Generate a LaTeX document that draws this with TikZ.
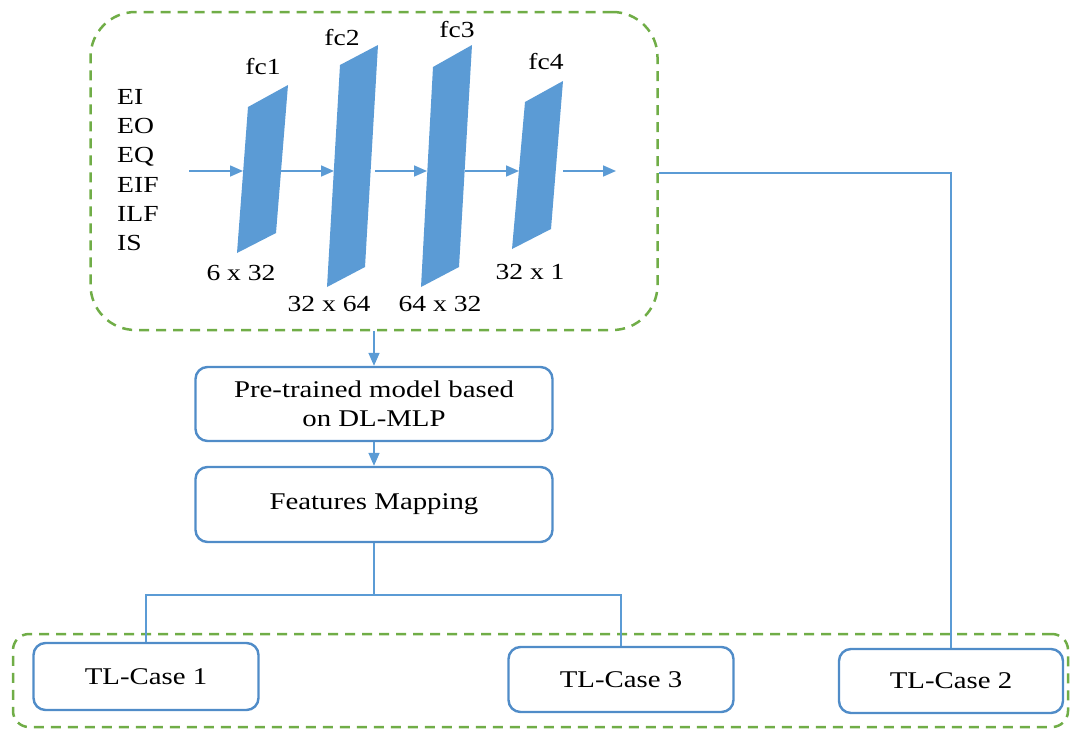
\documentclass[tikz,border=0pt]{standalone}
\usepackage{fontspec}
\setmainfont[FakeStretch=1.2]{Liberation Serif}
\usetikzlibrary{arrows.meta,positioning}
\definecolor{layerblue}{RGB}{91,155,213}
\definecolor{edgeblue}{RGB}{80,140,200}
\definecolor{framegreen}{RGB}{112,173,71}

\begin{document}
\begin{tikzpicture}[x=1pt, y=-1pt,
  frame/.style={rectangle, draw=framegreen, line width=2.5pt, dash pattern=on 10pt off 7pt},
  block/.style={rectangle, rounded corners=12pt, draw=edgeblue, line width=2.4pt, fill=white, text centered, font=\fontsize{24}{29}\selectfont},
  lbl/.style={font=\fontsize{23}{26}\selectfont, inner sep=0pt},
  link/.style={draw=layerblue, line width=1.6pt},
  flow/.style={link, -{Triangle[length=13pt, width=11pt]}}]
\useasboundingbox (0,0) rectangle (1075,731);

% Frames
\node (mlpframe) [frame, rounded corners=45pt, minimum width=567pt, minimum height=318pt] at (374,171) {};
\node (caseframe) [frame, rounded corners=16pt, minimum width=1055pt, minimum height=93pt] at (540.5,680.5) {};

% Layers of the network
\fill[layerblue] (248,107) -- (288,85) -- (276,233) -- (237,253) -- cycle;
\fill[layerblue] (340,65) -- (378,45) -- (365,267) -- (327,287) -- cycle;
\fill[layerblue] (433,67) -- (472,45) -- (459,267) -- (421,287) -- cycle;
\fill[layerblue] (525,102) -- (563,81) -- (551,229) -- (512,249) -- cycle;

\node (fc1) [lbl] at (263,67) {fc1};
\node (fc2) [lbl] at (342,38) {fc2};
\node (fc3) [lbl] at (457,30) {fc3};
\node (fc4) [lbl] at (546,62) {fc4};

\node (size1) [lbl] at (241,273) {6 x 32};
\node (size2) [lbl] at (329,304) {32 x 64};
\node (size3) [lbl] at (440,304) {64 x 32};
\node (size4) [lbl] at (530,272) {32 x 1};

% Inputs
\node (inputs) [lbl, anchor=west, align=left, font=\fontsize{23}{29.2}\selectfont] at (117,170) {EI\\EO\\EQ\\EIF\\ILF\\IS};

\coordinate (a0) at (189,171);
\coordinate (a1) at (243,171);
\coordinate (b0) at (281,171);
\coordinate (b1) at (334,171);
\coordinate (c0) at (375,171);
\coordinate (c1) at (427,171);
\coordinate (d0) at (465,171);
\coordinate (d1) at (519,171);
\coordinate (e0) at (563,171);
\coordinate (e1) at (616,171);

\draw[flow] (a0) -- (a1);
\draw[flow] (b0) -- (b1);
\draw[flow] (c0) -- (c1);
\draw[flow] (d0) -- (d1);
\draw[flow] (e0) -- (e1);

% Middle level
\node (pretrained) [block, minimum width=357pt, minimum height=74pt, align=center] at (374,404) {Pre-trained model based\\on DL-MLP};
\node (features) [block, minimum width=357pt, minimum height=75pt] at (374,504.5) {Features Mapping};

% Transfer cases
\node (case1) [block, minimum width=225pt, minimum height=67pt] at (146,676.5) {TL-Case 1};
\node (case3) [block, minimum width=225pt, minimum height=65pt] at (621,679.5) {TL-Case 3};
\node (case2) [block, minimum width=224pt, minimum height=64pt] at (951,681) {TL-Case 2};

% Links
\draw[flow] (mlpframe.south) -- (pretrained);
\draw[flow] (pretrained) -- (features);

\coordinate (split) at (374,595);
\draw[link] (features.south) -- (split);
\draw[link] (split) -| (case1.north);
\draw[link] (split) -| (case3.north);
\draw[link] (mlpframe.east |- 0,173) -| (case2.north);

\end{tikzpicture}
\end{document}
